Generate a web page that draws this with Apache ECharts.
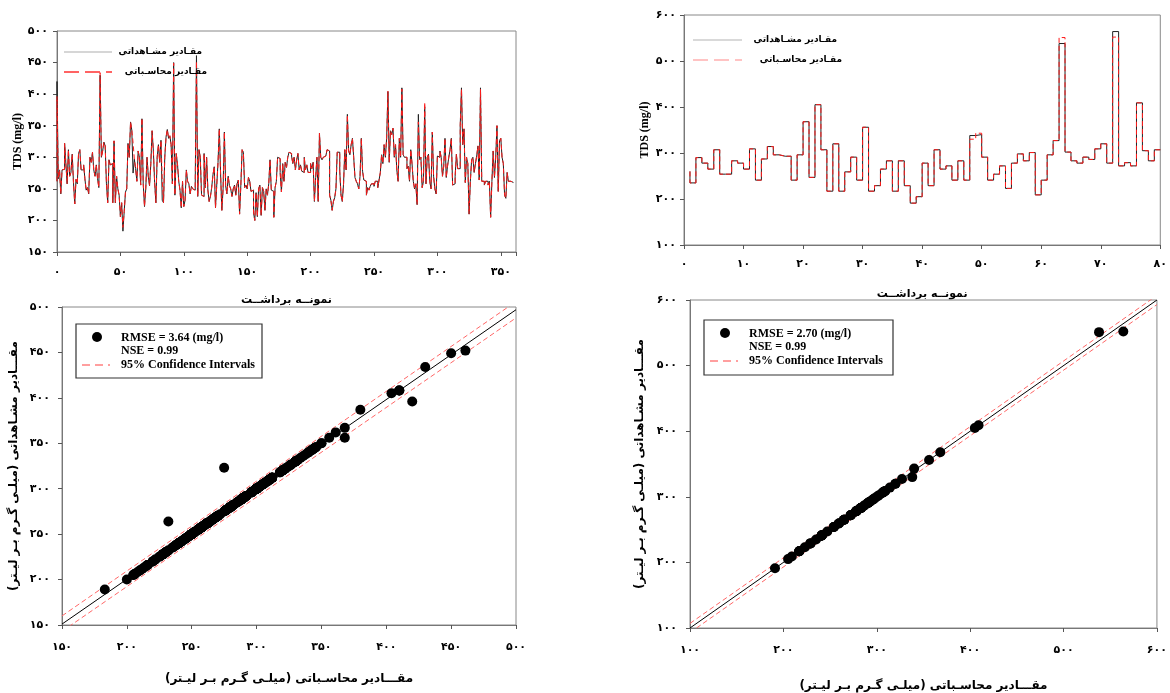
<!DOCTYPE html>
<html>
<head>
<meta charset="utf-8">
<title>TDS</title>
<script src="https://cdn.jsdelivr.net/npm/echarts@6/dist/echarts.min.js"></script>
<style>
  html, body { margin: 0; padding: 0; background: #fff; }
  #chart { width: 1170px; height: 693px; }
</style>
</head>
<body>
<div id="chart"></div>
<script>
// ---- data ----
// left top: 361 samples (black = مشاهداتی line)
const obsTL = [
  262,420,266,280,242,280,281,322,290,258,
  312,270,276,305,260,226,265,258,306,312,
  280,280,288,266,248,252,242,300,292,308,
  280,270,288,266,252,430,300,310,324,318,
  258,228,296,288,290,228,326,228,270,250,
  240,206,228,183,214,245,250,322,300,356,
  343,275,297,282,262,310,300,256,361,258,
  222,250,300,270,255,290,342,310,260,228,
  300,320,292,327,232,228,300,332,344,330,
  334,320,258,450,240,306,290,262,248,220,
  262,222,232,280,262,258,242,254,250,248,
  256,461,238,312,300,240,238,306,252,300,
  248,230,238,252,272,285,220,256,292,345,
  275,216,250,340,255,242,270,255,250,238,
  250,256,240,258,264,210,256,312,308,252,
  256,250,268,262,246,248,212,200,244,206,
  250,256,208,252,246,216,250,240,258,296,
  248,246,205,252,262,300,298,276,245,290,
  262,292,284,300,308,306,302,290,300,280,
  296,306,280,288,278,276,300,280,288,276,
  276,290,282,292,230,268,300,230,338,300,
  296,300,302,305,312,310,240,232,216,230,
  236,250,308,308,278,240,230,258,312,280,
  368,310,304,320,330,300,268,262,258,250,
  270,330,278,264,262,240,252,248,254,258,
  258,254,262,262,252,264,276,304,290,320,
  300,330,404,292,342,336,346,300,320,280,
  262,330,300,410,304,300,300,282,286,262,
  312,290,262,250,258,225,368,296,300,252,
  262,380,258,300,305,262,250,340,270,250,
  242,302,300,310,300,270,286,330,268,286,
  300,312,330,256,258,270,305,282,282,350,
  410,320,345,260,300,290,210,262,296,300,
  276,290,302,318,264,410,262,262,256,262,
  262,256,262,205,262,310,268,300,350,246,
  326,330,300,290,240,235,276,262,262,260,260
];
// red (محاسباتی) line: samples where it departs from the black one
const calcTLDiff = [
  [1,396],[35,434],[53,189],[61,323],[68,362],[84,264],[93,449],[111,452],
  [230,367],[262,405],[273,408],[286,356],[291,387],[320,408],[335,408]
];

// right top: 80 samples, x = 1..80
const obsTR = [
  260,
  235,290,278,265,307,254,254,283,278,265,
  309,241,287,314,296,293,293,241,296,368,
  247,405,307,217,320,217,259,291,241,356,
  217,229,265,283,217,283,229,191,205,278,
  229,307,265,272,241,283,241,338,340,291,
  241,254,272,223,278,298,283,301,209,241,
  296,327,538,302,283,278,291,286,309,320,
  278,564,272,279,272,409,305,283,307
];
const calcTRDiff = [[48,330],[49,343],[63,551],[72,552]];

// 1:1 line and 95% confidence bands of the scatter panels
const fitBL = [[150,151],[500,497]];
const ciUpBL = [[150,160],[500,506]];
const ciLowBL = [[150,143],[500,488]];
const fitBR = [[100,100],[600,600]];
const ciUpBR = [[100,107],[600,607]];
const ciLowBR = [[100,93],[600,593]];

const statsBL = ['RMSE = 3.64 (mg/l)', 'NSE = 0.99', '95% Confidence Intervals'];
const statsBR = ['RMSE = 2.70 (mg/l)', 'NSE = 0.99', '95% Confidence Intervals'];

const nameObs = 'مقـادیر مشـاهداتی';
const nameCalc = 'مقـادیر محاسـباتی';
const nameSample = 'نمونــه برداشــت';
const nameAxisX = 'مقـــادیر محاسـباتی (میلـی گـرم بـر لیـتر)';
const nameAxisY = 'مقـــادیر مشـاهداتی (میلـی گـرم بـر لیـتر)';

// ---- build ----
const applyDiff = (base, diff) => {
  const out = base.slice();
  diff.forEach(([i, v]) => { out[i] = v });
  return out;
};
const calcTL = applyDiff(obsTL, calcTLDiff);
const calcTR = applyDiff(obsTR, calcTRDiff);

const lineTL = arr => arr.map((v, i) => [i, v]);
const lineTR = arr => arr.map((v, i) => [i + 1, v]);
const pairs = (a, b) => a.map((v, i) => [v, b[i]]);

const fa = n => String(n).replace(/\d/g, d => '۰۱۲۳۴۵۶۷۸۹'[d]);
const rtl = s => '\u200F' + s + '\u200F';

const faFont = '"DejaVu Sans", sans-serif';
const enFont = '"Liberation Serif", "Times New Roman", serif';

const tickLabel = (margin, step) => ({
  margin,
  fontSize: 11,
  fontWeight: 'bold',
  fontFamily: faFont,
  color: '#000',
  formatter: v => (step && v % step !== 0) ? '' : fa(v)
});
const axisBase = {
  type: 'value',
  splitLine: { show: false },
  axisLine: { show: true, lineStyle: { color: '#777' } },
  axisTick: { show: true, length: 4, lineStyle: { color: '#555' } }
};

const chart = echarts.init(document.getElementById('chart'));

const grids = [
  { left: 57, top: 31, width: 459, height: 221 },
  { left: 684, top: 15, width: 478, height: 230 },
  { left: 62, top: 307, width: 454, height: 318 },
  { left: 690, top: 300, width: 472, height: 332 }
].map(g => Object.assign(g, { show: true, borderColor: '#888', borderWidth: 1 }));

const legendBox = (x, y, w, h, lines) => {
  const tx = x + 45;
  const font = 'bold 12px ' + enFont;
  return [
    { type: 'rect', shape: { x, y, width: w, height: h }, style: { fill: '#fff', stroke: '#333', lineWidth: 1.2 }, z: 10 },
    { type: 'circle', shape: { cx: x + 21, cy: y + 13, r: 5 }, style: { fill: '#000' }, z: 11 },
    { type: 'line', shape: { x1: x + 6, y1: y + 41, x2: x + 34, y2: y + 41 }, style: { stroke: '#ff8080', lineWidth: 1.5, lineDash: [8, 5] }, z: 11 },
    { type: 'text', x: tx, y: y + 14, style: { text: lines[0], font, fill: '#000', textVerticalAlign: 'middle' }, z: 11 },
    { type: 'text', x: tx, y: y + 27, style: { text: lines[1], font, fill: '#000', textVerticalAlign: 'middle' }, z: 11 },
    { type: 'text', x: tx, y: y + 41, style: { text: lines[2], font, fill: '#000', textVerticalAlign: 'middle' }, z: 11 }
  ];
};

const seriesLegend = (x1, x2, yTop, textRight1, textRight2, grayColor, redColor) => {
  const font = 'bold 9px ' + faFont;
  return [
    { type: 'line', shape: { x1, y1: yTop, x2, y2: yTop }, style: { stroke: grayColor, lineWidth: 1.5 }, z: 10 },
    { type: 'line', shape: { x1, y1: yTop + 20, x2, y2: yTop + 20 }, style: { stroke: redColor, lineWidth: 1.5, lineDash: [15, 6] }, z: 10 },
    { type: 'text', x: textRight1, y: yTop, style: { text: rtl(nameObs), font, fill: '#000', textAlign: 'right', textVerticalAlign: 'middle' }, z: 10 },
    { type: 'text', x: textRight2, y: yTop + 20, style: { text: rtl(nameCalc), font, fill: '#000', textAlign: 'right', textVerticalAlign: 'middle' }, z: 10 }
  ];
};

const stepLine = (xi, data, color, dashed, z) => ({
  type: 'line',
  xAxisIndex: xi,
  yAxisIndex: xi,
  data,
  step: 'start',
  symbol: 'none',
  z,
  lineStyle: { color, width: 1, type: dashed ? [5, 3] : 'solid' },
  animation: false
});
const refLine = (xi, data, color, dashed) => ({
  type: 'line',
  xAxisIndex: xi,
  yAxisIndex: xi,
  data,
  symbol: 'none',
  clip: true,
  lineStyle: { color, width: 1, type: dashed ? [5, 3] : 'solid' },
  animation: false
});

const titleStyle = (family, size) => ({ fontFamily: family, fontSize: size, fontWeight: 'bold', color: '#000' });

chart.setOption({
  backgroundColor: '#fff',
  animation: false,
  grid: grids,
  xAxis: [
    Object.assign({}, axisBase, { gridIndex: 0, min: 0, max: 362, interval: 50, axisLabel: tickLabel(15, 50),
      name: rtl(nameSample), nameLocation: 'middle', nameGap: 43, nameTextStyle: titleStyle(faFont, 11) }),
    Object.assign({}, axisBase, { gridIndex: 1, min: 0, max: 80, interval: 10, axisLabel: tickLabel(14),
      name: rtl(nameSample), nameLocation: 'middle', nameGap: 44, nameTextStyle: titleStyle(faFont, 11) }),
    Object.assign({}, axisBase, { gridIndex: 2, min: 150, max: 500, interval: 50, axisLabel: tickLabel(17),
      name: rtl(nameAxisX), nameLocation: 'middle', nameGap: 48, nameTextStyle: titleStyle(faFont, 12) }),
    Object.assign({}, axisBase, { gridIndex: 3, min: 100, max: 600, interval: 100, axisLabel: tickLabel(17),
      name: rtl(nameAxisX), nameLocation: 'middle', nameGap: 52, nameTextStyle: titleStyle(faFont, 12) })
  ],
  yAxis: [
    Object.assign({}, axisBase, { gridIndex: 0, min: 150, max: 500, interval: 50, axisLabel: tickLabel(9),
      name: 'TDS (mg/l)', nameLocation: 'middle', nameGap: 33, nameTextStyle: titleStyle(enFont, 12) }),
    Object.assign({}, axisBase, { gridIndex: 1, min: 100, max: 600, interval: 100, axisLabel: tickLabel(8),
      name: 'TDS (mg/l)', nameLocation: 'middle', nameGap: 33, nameTextStyle: titleStyle(enFont, 12) }),
    Object.assign({}, axisBase, { gridIndex: 2, min: 150, max: 500, interval: 50, axisLabel: tickLabel(12),
      name: rtl(nameAxisY), nameLocation: 'middle', nameGap: 42, nameTextStyle: titleStyle(faFont, 12) }),
    Object.assign({}, axisBase, { gridIndex: 3, min: 100, max: 600, interval: 100, axisLabel: tickLabel(13),
      name: rtl(nameAxisY), nameLocation: 'middle', nameGap: 44, nameTextStyle: titleStyle(faFont, 12) })
  ],
  series: [
    // time series, top left
    stepLine(0, lineTL(obsTL), '#222', false, 2),
    stepLine(0, lineTL(calcTL), '#ff1a1a', true, 3),
    // time series, top right
    stepLine(1, lineTR(obsTR), '#222', false, 2),
    stepLine(1, lineTR(calcTR), '#ff1a1a', true, 3),
    // scatter, bottom left
    refLine(2, ciUpBL, '#ff6666', true),
    refLine(2, ciLowBL, '#ff6666', true),
    refLine(2, fitBL, '#000', false),
    {
      type: 'scatter', xAxisIndex: 2, yAxisIndex: 2,
      data: pairs(obsTL, calcTL), symbolSize: 10,
      itemStyle: { color: '#000', opacity: 1 }, z: 5
    },
    // scatter, bottom right
    refLine(3, ciUpBR, '#ff6666', true),
    refLine(3, ciLowBR, '#ff6666', true),
    refLine(3, fitBR, '#000', false),
    {
      type: 'scatter', xAxisIndex: 3, yAxisIndex: 3,
      data: pairs(obsTR, calcTR), symbolSize: 10,
      itemStyle: { color: '#000', opacity: 1 }, z: 5
    }
  ],
  graphic: [
    ...seriesLegend(64, 112, 52, 202, 207, '#c8c8c8', '#ff3030'),
    ...seriesLegend(693, 742, 40, 837, 842, '#cccccc', '#ffb0b0'),
    ...legendBox(76, 324, 186, 54, statsBL),
    ...legendBox(704, 320, 189, 55, statsBR)
  ]
});
</script>
</body>
</html>
